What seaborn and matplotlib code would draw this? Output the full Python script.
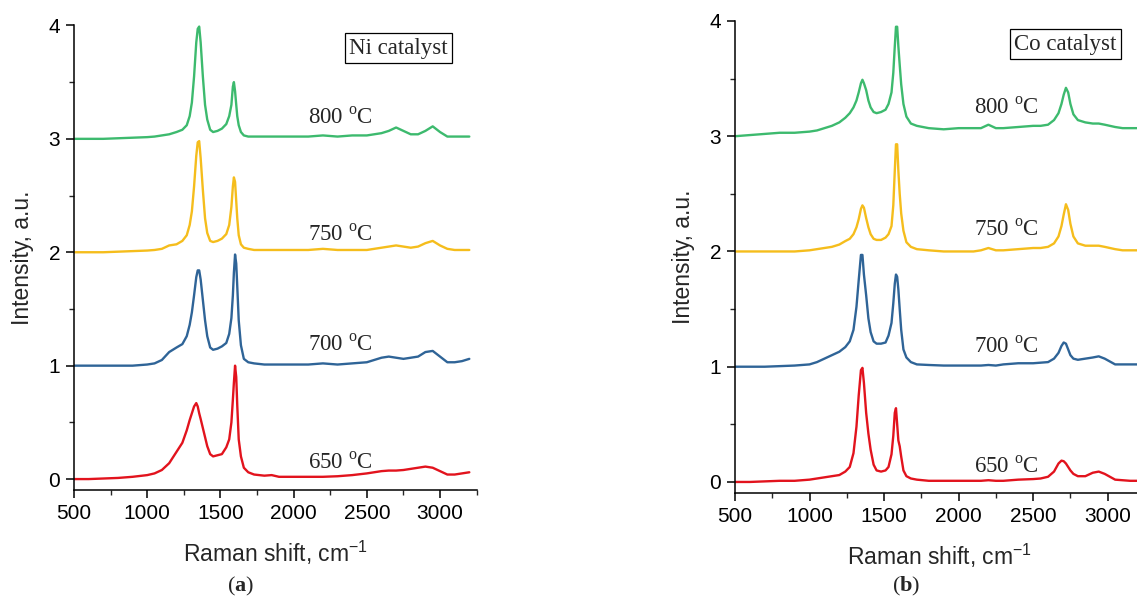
import numpy as np
import pandas as pd
import matplotlib
matplotlib.use("Agg")
import matplotlib.pyplot as plt
from matplotlib.ticker import AutoMinorLocator, MultipleLocator
import seaborn as sns

# ---------------- data ----------------
ni_shift = [500, 600, 700, 800, 900, 1000, 1050, 1100, 1150, 1200, 1240, 1270, 1290, 1305,
            1320, 1335, 1345, 1355, 1365, 1380, 1395, 1410, 1430, 1450, 1480, 1510, 1540,
            1560, 1575, 1585, 1592, 1600, 1608, 1615, 1625, 1640, 1660, 1690, 1730, 1800,
            1850, 1900, 2000, 2100, 2200, 2300, 2400, 2500, 2550, 2600, 2650, 2700, 2750,
            2800, 2850, 2900, 2950, 3000, 3050, 3100, 3150, 3200]

ni_800 = [3.00, 3.00, 3.00, 3.005, 3.01, 3.015, 3.02, 3.03, 3.04, 3.06, 3.08, 3.12, 3.20, 3.32,
          3.55, 3.85, 3.97, 3.99, 3.85, 3.55, 3.30, 3.17, 3.08, 3.06, 3.07, 3.09, 3.13,
          3.20, 3.30, 3.46, 3.50, 3.42, 3.30, 3.20, 3.12, 3.06, 3.03, 3.02, 3.02, 3.02,
          3.02, 3.02, 3.02, 3.02, 3.03, 3.02, 3.03, 3.03, 3.04, 3.05, 3.07, 3.10, 3.07,
          3.04, 3.04, 3.07, 3.11, 3.06, 3.02, 3.02, 3.02, 3.02]

ni_750 = [2.00, 2.00, 2.00, 2.005, 2.01, 2.015, 2.02, 2.03, 2.06, 2.07, 2.10, 2.15, 2.24, 2.36,
          2.58, 2.85, 2.97, 2.98, 2.83, 2.55, 2.30, 2.17, 2.10, 2.09, 2.10, 2.12, 2.16,
          2.24, 2.40, 2.58, 2.66, 2.62, 2.45, 2.30, 2.15, 2.07, 2.04, 2.03, 2.02, 2.02,
          2.02, 2.02, 2.02, 2.02, 2.03, 2.02, 2.02, 2.02, 2.03, 2.04, 2.05, 2.06, 2.05,
          2.04, 2.05, 2.08, 2.10, 2.06, 2.03, 2.02, 2.02, 2.02]

ni_700 = [1.00, 1.00, 1.00, 1.00, 1.00, 1.01, 1.02, 1.05, 1.12, 1.16, 1.19, 1.26, 1.36, 1.47,
          1.62, 1.78, 1.84, 1.84, 1.76, 1.58, 1.40, 1.26, 1.16, 1.14, 1.15, 1.17, 1.20,
          1.28, 1.42, 1.62, 1.82, 1.98, 1.90, 1.70, 1.40, 1.18, 1.06, 1.03, 1.02, 1.01,
          1.01, 1.01, 1.01, 1.01, 1.02, 1.01, 1.02, 1.03, 1.05, 1.07, 1.08, 1.07, 1.06,
          1.07, 1.08, 1.12, 1.13, 1.08, 1.03, 1.03, 1.04, 1.06]

ni_650 = [0.00, 0.00, 0.005, 0.01, 0.02, 0.035, 0.05, 0.08, 0.14, 0.24, 0.32, 0.43, 0.52, 0.58,
          0.64, 0.67, 0.64, 0.58, 0.53, 0.45, 0.37, 0.29, 0.22, 0.20, 0.21, 0.22, 0.28,
          0.35, 0.50, 0.70, 0.85, 1.00, 0.90, 0.65, 0.35, 0.20, 0.10, 0.06, 0.04, 0.03,
          0.035, 0.02, 0.02, 0.02, 0.02, 0.025, 0.035, 0.05, 0.06, 0.07, 0.075, 0.075, 0.08,
          0.09, 0.10, 0.11, 0.10, 0.07, 0.04, 0.04, 0.05, 0.06]

co_shift = [500, 600, 700, 800, 900, 1000, 1050, 1100, 1150, 1200, 1240, 1270, 1295, 1315,
            1330, 1345, 1355, 1365, 1380, 1395, 1410, 1430, 1450, 1480, 1510, 1530, 1550,
            1562, 1572, 1580, 1588, 1596, 1605, 1615, 1630, 1650, 1680, 1720, 1800, 1900,
            2000, 2100, 2150, 2200, 2250, 2300, 2400, 2500, 2550, 2600, 2640, 2670, 2690,
            2705, 2720, 2735, 2750, 2770, 2800, 2850, 2900, 2940, 2980, 3050, 3100, 3150, 3200]

co_800 = [3.00, 3.01, 3.02, 3.03, 3.03, 3.04, 3.05, 3.07, 3.09, 3.12, 3.16, 3.20, 3.25, 3.31,
          3.38, 3.46, 3.49, 3.46, 3.40, 3.31, 3.25, 3.21, 3.20, 3.21, 3.23, 3.28, 3.38,
          3.55, 3.78, 3.95, 3.95, 3.78, 3.62, 3.45, 3.28, 3.17, 3.11, 3.09, 3.07, 3.06,
          3.07, 3.07, 3.07, 3.10, 3.07, 3.07, 3.08, 3.09, 3.09, 3.10, 3.14, 3.20, 3.28,
          3.36, 3.42, 3.38, 3.28, 3.19, 3.14, 3.12, 3.11, 3.11, 3.10, 3.08, 3.07, 3.07, 3.07]

co_750 = [2.00, 2.00, 2.00, 2.00, 2.00, 2.01, 2.02, 2.03, 2.04, 2.06, 2.09, 2.11, 2.15, 2.21,
          2.28, 2.37, 2.40, 2.38, 2.29, 2.21, 2.15, 2.11, 2.10, 2.10, 2.12, 2.15, 2.22,
          2.40, 2.70, 2.93, 2.93, 2.70, 2.50, 2.33, 2.18, 2.08, 2.04, 2.02, 2.01, 2.00,
          2.00, 2.00, 2.01, 2.03, 2.01, 2.01, 2.02, 2.03, 2.03, 2.04, 2.07, 2.13, 2.22,
          2.32, 2.41, 2.36, 2.24, 2.13, 2.07, 2.05, 2.05, 2.05, 2.04, 2.02, 2.01, 2.01, 2.01]

co_700 = [1.00, 1.00, 1.00, 1.005, 1.01, 1.02, 1.04, 1.07, 1.10, 1.13, 1.17, 1.22, 1.32, 1.52,
          1.75, 1.97, 1.97, 1.80, 1.62, 1.42, 1.30, 1.22, 1.20, 1.20, 1.21, 1.27, 1.38,
          1.55, 1.72, 1.80, 1.78, 1.67, 1.50, 1.32, 1.15, 1.08, 1.04, 1.02, 1.015, 1.01,
          1.01, 1.01, 1.01, 1.015, 1.01, 1.02, 1.03, 1.03, 1.035, 1.04, 1.07, 1.12, 1.18,
          1.21, 1.20, 1.15, 1.10, 1.07, 1.06, 1.07, 1.08, 1.09, 1.07, 1.02, 1.02, 1.02, 1.02]

co_650 = [0.00, 0.00, 0.005, 0.01, 0.01, 0.02, 0.03, 0.04, 0.05, 0.06, 0.09, 0.13, 0.25, 0.48,
          0.75, 0.97, 0.99, 0.86, 0.60, 0.42, 0.28, 0.15, 0.10, 0.09, 0.10, 0.13, 0.24,
          0.40, 0.60, 0.64, 0.50, 0.36, 0.31, 0.22, 0.10, 0.05, 0.03, 0.02, 0.01, 0.01,
          0.01, 0.01, 0.01, 0.015, 0.01, 0.01, 0.02, 0.025, 0.03, 0.045, 0.09, 0.16, 0.185,
          0.18, 0.16, 0.13, 0.10, 0.07, 0.05, 0.05, 0.08, 0.09, 0.07, 0.02, 0.015, 0.01, 0.01]

temperatures = ["650", "700", "750", "800"]
label_y_ni = [0.14, 1.18, 2.15, 3.18]
label_y_co = [0.13, 1.17, 2.19, 3.245]
panel_titles = ["Ni catalyst", "Co catalyst"]
panel_letters = ["a", "b"]

# ---------------- style ----------------
sns.set_style("ticks")
plt.rcParams["font.family"] = ["Liberation Sans", "DejaVu Sans"]
plt.rcParams["mathtext.fontset"] = "custom"
plt.rcParams["mathtext.rm"] = "Liberation Serif"
plt.rcParams["mathtext.bf"] = "Liberation Serif:bold"
plt.rcParams["mathtext.sf"] = "Liberation Sans"

colors = {"650": "#e2131d", "700": "#2f6497", "750": "#f5bd1c", "800": "#3dba6e"}
serif = ["Liberation Serif", "DejaVu Serif"]

fig = plt.figure(figsize=(11.37, 6.01), dpi=100)
ax_ni = fig.add_axes([0.0651, 0.184, 0.3541, 0.7737])
ax_co = fig.add_axes([0.6464, 0.1789, 0.3606, 0.7862])


def build(shift, series):
    rows = []
    for t, vals in zip(temperatures, series):
        for x, y in zip(shift, vals):
            rows.append({"shift": x, "intensity": y, "temp": t})
    return pd.DataFrame(rows)


df_ni = build(ni_shift, [ni_650, ni_700, ni_750, ni_800])
df_co = build(co_shift, [co_650, co_700, co_750, co_800])

for ax, df, ly, title in [
    (ax_ni, df_ni, label_y_ni, panel_titles[0]),
    (ax_co, df_co, label_y_co, panel_titles[1]),
]:
    sns.lineplot(data=df, x="shift", y="intensity", hue="temp", palette=colors,
                 ax=ax, legend=False, linewidth=1.7, sort=True, estimator=None)
    ax.set_xlim(500, 3250)
    ax.set_ylim(-0.1, 4.0)
    ax.xaxis.set_major_locator(MultipleLocator(500))
    ax.xaxis.set_minor_locator(AutoMinorLocator(2))
    ax.yaxis.set_major_locator(MultipleLocator(1))
    ax.yaxis.set_minor_locator(AutoMinorLocator(2))
    ax.tick_params(which="major", direction="out", length=6, width=1.1,
                   labelsize=15, colors="black", pad=4)
    ax.tick_params(which="minor", direction="out", length=3.5, width=1.0)
    for s in ["top", "right"]:
        ax.spines[s].set_visible(False)
    for s in ["left", "bottom"]:
        ax.spines[s].set_linewidth(1.1)
        ax.spines[s].set_color("black")
    ax.set_xlabel(r"Raman shift, cm$^{\mathsf{-1}}$", fontsize=16.5, labelpad=11)
    ax.set_ylabel("Intensity, a.u.", fontsize=16.5, labelpad=10)
    for t, y in zip(temperatures, ly):
        ax.text(2100, y, t + r" $^{\mathrm{o}}$C", fontsize=16.5, ha="left", va="center",
                family=serif)
    ax.text(2718, 3.80, title, fontsize=16.5, ha="center", va="center",
            family=serif,
            bbox=dict(boxstyle="square,pad=0.18", facecolor="white",
                      edgecolor="black", linewidth=0.9))

fig.text(241 / 1137, 1 - 586 / 601, r"($\mathbf{a}$)", fontsize=16, ha="center",
         va="center", family=serif)
fig.text(906 / 1137, 1 - 586 / 601, r"($\mathbf{b}$)", fontsize=16, ha="center",
         va="center", family=serif)

fig.savefig("out.png", dpi=100)
